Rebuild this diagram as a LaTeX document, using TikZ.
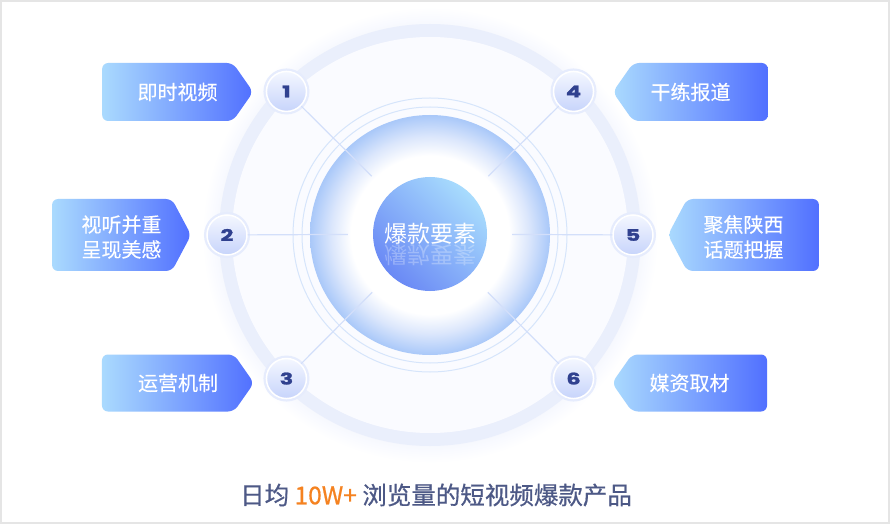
\documentclass[tikz,border=0pt]{standalone}
\usepackage{fontspec}
\newfontfamily\cjk{Noto Sans CJK SC}
\newfontfamily\cjkbox{Noto Sans CJK SC}[FakeBold=0.3]
\newfontfamily\cjkmed{Noto Sans CJK SC}[FakeBold=0.6]
\newfontfamily\numfont{Poppins}[BoldFeatures={FakeBold=1.5,FakeStretch=1.4}]
\usepackage{xcolor}
\usepackage{tikz}
\usetikzlibrary{shapes.symbols,positioning,calc}
\definecolor{boxlight}{HTML}{AADAFE}
\definecolor{boxdark}{HTML}{5170FF}
\definecolor{ringband}{HTML}{EAEFFC}
\definecolor{haloblue}{HTML}{F1F4FE}
\definecolor{innerfill}{HTML}{FAFBFF}
\definecolor{thinring}{HTML}{D6E5FB}
\definecolor{discmid}{HTML}{DCE7FC}
\definecolor{discedge}{HTML}{A9C8F9}
\definecolor{spokeblue}{HTML}{D3DFFA}
\definecolor{coreblue}{HTML}{6A89F5}
\definecolor{corelight}{HTML}{A8DCFD}
\definecolor{badgetop}{HTML}{F4F7FF}
\definecolor{badgebot}{HTML}{C7D4FB}
\definecolor{badgeglow}{HTML}{E6ECFD}
\definecolor{digitblue}{HTML}{30418F}
\definecolor{captiongray}{HTML}{4D5986}
\definecolor{hotorange}{HTML}{F58220}
\definecolor{framegray}{HTML}{E5E5E5}
\pgfdeclareradialshading{haloshade}{\pgfpoint{0bp}{0bp}}{color(0bp)=(haloblue); color(22bp)=(haloblue); color(25bp)=(white); color(50bp)=(white)}
\pgfdeclareradialshading{discshade}{\pgfpoint{0bp}{0bp}}{color(0bp)=(white); color(16.5bp)=(white); color(20.5bp)=(discmid); color(25bp)=(discedge); color(50bp)=(discedge)}
\tikzset{
  labelbox/.style={signal,rounded corners=6pt,left color=boxlight,right color=boxdark,inner sep=0pt},
  boxtext/.style={text=white,font=\cjkbox\fontsize{20}{25}\selectfont,align=center},
  badge/.style={circle,minimum size=40pt,inner sep=0pt,top color=badgetop,bottom color=badgebot,
    preaction={draw=badgeglow,line width=6pt},draw=white,line width=1.5pt,text=digitblue,
    font=\numfont\bfseries\fontsize{16}{16}\selectfont},
  spoke/.style={spokeblue,line width=1.2pt,shorten >=25pt},
}

\begin{document}
\begin{tikzpicture}[x=1pt,y=1pt]
  \useasboundingbox (-430,-289) rectangle (460,235);
  \fill[white] (-430,-289) rectangle (460,235);
  \draw[framegray,line width=2pt] (-429,-288) rectangle (459,234);
  % rings and disc
  \shade[shading=haloshade] (0,0) circle (228);
  \draw[ringband,line width=13pt] (0,0) circle (204.5);
  \fill[innerfill] (0,0) circle (198);
  \draw[thinring,line width=1pt] (0,0) circle (137) (0,0) circle (128);
  \shade[shading=discshade] (0,0) circle (120);
  % core and badges
  \node[circle,minimum size=114pt,top color=corelight,bottom color=coreblue,shading angle=-45,
    text=white,font=\cjk\fontsize{23}{23}\selectfont] (core) at (0,1) {爆款要素};
  \node[text=white,opacity=.28,yscale=-1,font=\cjk\fontsize{23}{23}\selectfont] (mirror) at (0,-20) {爆款要素};
  \foreach \n/\a in {1/135,2/180,3/225,4/45,5/0,6/-45}{
    \node[badge] (b\n) at (\a:203) {\n};
    \draw[spoke] (b\n) -- (core);
  }
  % labels
  \node[labelbox,signal to=east,minimum width=151pt,minimum height=58pt,signal pointer angle=110] (t1) at (-262.5,143) {};
  \node[labelbox,signal to=east,minimum width=139pt,minimum height=72pt,signal pointer angle=124] (t2) at (-318,0) {};
  \node[labelbox,signal to=east,minimum width=152pt,minimum height=57pt,signal pointer angle=110] (t3) at (-262,-148) {};
  \node[labelbox,signal to=west,minimum width=155pt,minimum height=58pt,signal pointer angle=110] (t4) at (270.5,143) {};
  \node[labelbox,signal to=west,minimum width=151pt,minimum height=72pt,signal pointer angle=124] (t5) at (323,0) {};
  \node[labelbox,signal to=west,minimum width=155pt,minimum height=57pt,signal pointer angle=110] (t6) at (269.5,-148) {};
  \node[boxtext] (l1) at (-252.5,143) {即时视频};
  \node[boxtext] (l2) at (-308.5,-2) {视听并重\\呈现美感};
  \node[boxtext] (l3) at (-252,-148) {运营机制};
  \node[boxtext] (l4) at (260.5,143) {干练报道};
  \node[boxtext] (l5) at (313.5,-2) {聚焦陕西\\话题把握};
  \node[boxtext] (l6) at (259.5,-148) {媒资取材};
  \node[text=captiongray,font=\cjkmed\fontsize{24.5}{24.5}\selectfont] (caption) at (6,-260)
    {日均 \textcolor{hotorange}{10W+} 浏览量的短视频爆款产品};
\end{tikzpicture}
\end{document}
